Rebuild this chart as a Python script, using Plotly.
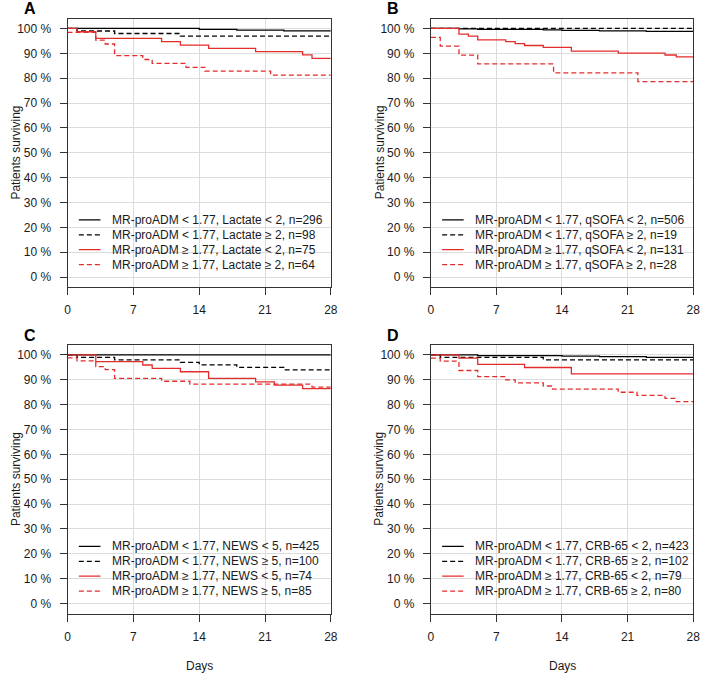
import plotly.graph_objects as go

# ---------------- data ----------------
DAY_TICKS = [0, 7, 14, 21, 28]
PCT_TICKS = [0, 10, 20, 30, 40, 50, 60, 70, 80, 90, 100]
PCT_LABELS = [f"{v} %" for v in PCT_TICKS]
END_DAY = 28
PANEL_LETTERS = ["A", "B", "C", "D"]

# Panel A - Lactate
A_LABELS = ["MR-proADM < 1.77, Lactate < 2, n=296",
            "MR-proADM < 1.77, Lactate \u2265 2, n=98",
            "MR-proADM \u2265 1.77, Lactate < 2, n=75",
            "MR-proADM \u2265 1.77, Lactate \u2265 2, n=64"]
A1_DAYS = [0, 14, 18, 23]
A1_SURV = [100, 99.66, 99.32, 98.99]
A2_DAYS = [0, 1, 5, 12]
A2_SURV = [100, 98.98, 97.96, 96.94]
A3_DAYS = [0, 1, 3, 10, 12, 15, 20, 25, 26]
A3_SURV = [100, 98.67, 96.0, 94.67, 93.33, 92.0, 90.67, 89.33, 88.0]
A4_DAYS = [0, 3, 4, 5, 8, 9, 12.6, 14.6, 21.6]
A4_SURV = [98.44, 95.31, 93.75, 89.06, 87.5, 85.94, 84.38, 82.81, 81.25]

# Panel B - qSOFA
B_LABELS = ["MR-proADM < 1.77, qSOFA < 2, n=506",
            "MR-proADM < 1.77, qSOFA \u2265 2, n=19",
            "MR-proADM \u2265 1.77, qSOFA < 2, n=131",
            "MR-proADM \u2265 1.77, qSOFA \u2265 2, n=28"]
B1_DAYS = [0, 3, 5, 12, 14, 18, 23]
B1_SURV = [100, 99.80, 99.60, 99.41, 99.21, 99.01, 98.81]
B2_DAYS = [0]
B2_SURV = [100]
B3_DAYS = [0, 3, 4, 5, 8, 9, 10, 12, 15, 20, 25, 26.2]
B3_SURV = [100, 97.71, 96.95, 95.42, 94.66, 93.89, 93.13, 92.37, 90.84, 90.08, 89.31, 88.55]
B4_DAYS = [0, 1, 3, 5, 13.1, 22.1]
B4_SURV = [96.43, 92.86, 89.29, 85.71, 82.14, 78.57]

# Panel C - NEWS
C_LABELS = ["MR-proADM < 1.77, NEWS < 5, n=425",
            "MR-proADM < 1.77, NEWS \u2265 5, n=100",
            "MR-proADM \u2265 1.77, NEWS < 5, n=74",
            "MR-proADM \u2265 1.77, NEWS \u2265 5, n=85"]
C1_DAYS = [0]
C1_SURV = [100]
C2_DAYS = [0, 1, 5, 12, 14, 18, 23]
C2_SURV = [100, 99, 98, 97, 96, 95, 94]
C3_DAYS = [0, 3, 8, 9, 12, 15, 20, 22, 25]
C3_SURV = [100, 97.30, 95.95, 94.59, 93.24, 90.54, 89.19, 87.84, 86.49]
C4_DAYS = [0, 1, 3, 4, 5, 10, 13, 26]
C4_SURV = [98.82, 97.65, 95.29, 94.12, 90.59, 89.41, 88.24, 87.06]

# Panel D - CRB-65
D_LABELS = ["MR-proADM < 1.77, CRB-65 < 2, n=423",
            "MR-proADM < 1.77, CRB-65 \u2265 2, n=102",
            "MR-proADM \u2265 1.77, CRB-65 < 2, n=79",
            "MR-proADM \u2265 1.77, CRB-65 \u2265 2, n=80"]
D1_DAYS = [0, 5, 14, 18, 23]
D1_SURV = [100, 99.76, 99.53, 99.29, 99.05]
D2_DAYS = [0, 1, 12]
D2_SURV = [100, 99.02, 98.04]
D3_DAYS = [0, 3, 5, 10, 15]
D3_SURV = [100, 98.73, 96.20, 94.94, 92.41]
D4_DAYS = [0, 1, 3, 5, 8, 9, 12, 13, 20, 22, 25, 26.2]
D4_SURV = [98.75, 97.5, 93.75, 91.25, 90.0, 88.75, 87.5, 86.25, 85.0, 83.75, 82.5, 81.25]

PANELS = [
    (A_LABELS, [(A1_DAYS, A1_SURV), (A2_DAYS, A2_SURV), (A3_DAYS, A3_SURV), (A4_DAYS, A4_SURV)]),
    (B_LABELS, [(B1_DAYS, B1_SURV), (B2_DAYS, B2_SURV), (B3_DAYS, B3_SURV), (B4_DAYS, B4_SURV)]),
    (C_LABELS, [(C1_DAYS, C1_SURV), (C2_DAYS, C2_SURV), (C3_DAYS, C3_SURV), (C4_DAYS, C4_SURV)]),
    (D_LABELS, [(D1_DAYS, D1_SURV), (D2_DAYS, D2_SURV), (D3_DAYS, D3_SURV), (D4_DAYS, D4_SURV)]),
]

# ---------------- styling / layout ----------------
W, H = 709, 674
RED = "#E32D2D"
DASH = "5px,3px"
STYLES = [("black", "solid"), ("black", DASH), (RED, "solid"), (RED, DASH)]
FONT = "Liberation Sans, Arial, Helvetica, sans-serif"
TXT = "#1a1a1a"
AXC = "#333333"
GRID = "#DCDCDC"

# pixel boxes: (left, right, top, bottom)
BOXES = [(65.5, 332.5, 18.5, 287.0),
         (434.0, 700.0, 18.5, 287.0),
         (65.5, 332.5, 345.0, 613.5),
         (434.0, 700.0, 345.0, 613.5)]
LETTER_POS = [(27, 9), (396, 9), (27, 335), (396, 335)]
LEG_ROWS = [23.0, 17.0, 11.0, 5.0]
LEG_X0, LEG_X1, LEG_TX = 1.2, 3.5, 4.55

fig = go.Figure()
layout = dict(width=W, height=H, margin=dict(l=0, r=0, t=0, b=0),
              paper_bgcolor="white", plot_bgcolor="white", showlegend=False,
              font=dict(family=FONT, size=12, color=TXT))
shapes, annotations = [], []

for k, (labels, curves) in enumerate(PANELS):
    n = k + 1
    sx = "" if n == 1 else str(n)
    xref, yref = f"x{sx}", f"y{sx}"
    for (days, surv), (col, dash), lab in zip(curves, STYLES, labels):
        fig.add_trace(go.Scatter(
            x=days + [END_DAY], y=surv + [surv[-1]], mode="lines",
            line=dict(color=col, dash=dash, width=1.3, shape="hv"),
            name=lab, xaxis=xref, yaxis=yref, hoverinfo="skip"))
    l, r, t, b = BOXES[k]
    layout[f"xaxis{sx}"] = dict(
        domain=[l / W, r / W], range=[0, END_DAY], anchor=yref,
        tickmode="array", tickvals=DAY_TICKS, ticktext=[str(v) for v in DAY_TICKS],
        ticks="outside", ticklen=7, tickcolor=AXC, tickwidth=1,
        showline=True, linecolor=AXC, linewidth=1, mirror=True,
        showgrid=True, gridcolor=GRID, gridwidth=1, zeroline=False,
        ticklabelstandoff=5, tickfont=dict(size=12, color=TXT, family=FONT))
    layout[f"yaxis{sx}"] = dict(
        domain=[1 - b / H, 1 - t / H], range=[-4, 104], anchor=xref,
        tickmode="array", tickvals=PCT_TICKS, ticktext=PCT_LABELS,
        ticks="outside", ticklen=7, tickcolor=AXC, tickwidth=1,
        showline=True, linecolor=AXC, linewidth=1, mirror=True,
        showgrid=True, gridcolor=GRID, gridwidth=1, zeroline=False,
        ticklabelstandoff=6, tickfont=dict(size=12, color=TXT, family=FONT))
    # legend (drawn manually to reproduce compact R-style legend)
    for (col, dash), lab, ry in zip(STYLES, labels, LEG_ROWS):
        shapes.append(dict(type="line", xref=xref, yref=yref,
                           x0=LEG_X0, x1=LEG_X1, y0=ry, y1=ry,
                           line=dict(color=col, width=1.3, dash=dash)))
        annotations.append(dict(xref=xref, yref=yref, x=LEG_TX, y=ry, text=lab,
                                showarrow=False, xanchor="left", yanchor="middle",
                                font=dict(size=12, color=TXT, family=FONT)))
    # panel letter
    lx, ly = LETTER_POS[k]
    annotations.append(dict(xref="paper", yref="paper", x=lx / W, y=1 - ly / H,
                            text=f"<b>{PANEL_LETTERS[k]}</b>", showarrow=False,
                            xanchor="center", yanchor="middle",
                            font=dict(size=16, color="black", family=FONT)))
    # y-axis title
    ytx = 13 if k % 2 == 0 else 382
    annotations.append(dict(xref="paper", yref="paper", x=ytx / W,
                            y=1 - ((t + b) / 2) / H, text="Patients surviving",
                            textangle=-90, showarrow=False, xanchor="center",
                            yanchor="middle", font=dict(size=12, color=TXT, family=FONT)))
    # x-axis title only on bottom row
    if k >= 2:
        annotations.append(dict(xref="paper", yref="paper", x=((l + r) / 2) / W,
                                y=1 - 665.5 / H, text="Days", showarrow=False,
                                xanchor="center", yanchor="middle",
                                font=dict(size=12, color=TXT, family=FONT)))

layout["shapes"] = shapes
layout["annotations"] = annotations
fig.update_layout(**layout)
fig.write_html("out.html", config={"displayModeBar": False},
               post_script="document.body.style.margin='0';document.body.style.overflow='hidden';")
